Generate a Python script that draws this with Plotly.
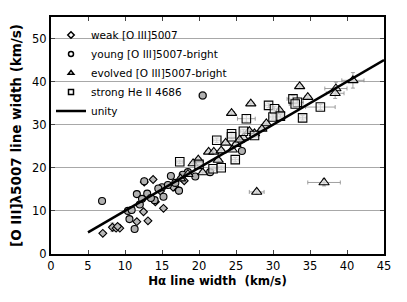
import plotly.graph_objects as go

# weak [O III]5007 (diamonds)
weak_x = [7.0, 8.3, 8.8, 9.3, 9.0, 11.6, 12.5, 13.1, 15.2, 12.6, 13.8, 14.1, 16.5, 18.0, 17.2, 14.8]
weak_y = [4.8, 6.2, 6.0, 6.0, 6.4, 7.5, 9.8, 7.7, 10.6, 16.7, 17.3, 12.1, 15.5, 17.0, 14.8, 14.6]
weak_ex = [0.3, 0.4, 0.3, 0.3, 0.3, 0.3, 0.3, 0.3, 0.3, 0.3, 0.3, 0.3, 0.3, 0.3, 0.3, 0.3]
weak_ey = [0.3, 1.0, 0.3, 0.3, 0.3, 0.3, 0.3, 0.3, 0.3, 0.3, 0.3, 0.3, 0.3, 0.3, 0.3, 0.3]

# young [O III]5007-bright (circles)
young_x = [6.9, 10.4, 10.6, 11.3, 11.6, 10.9, 12.6, 14.0, 15.2, 15.0, 16.2, 17.3, 13.0, 14.5, 12.0,
           16.8, 18.5, 20.5, 19.5, 13.5, 21.5, 25.8, 15.8, 12.3, 17.8]
young_y = [12.3, 10.0, 8.1, 5.8, 13.9, 10.2, 16.9, 12.5, 13.3, 15.5, 18.1, 14.7, 14.0, 15.2, 11.5,
           16.5, 19.0, 36.8, 18.0, 13.0, 19.0, 23.9, 16.0, 12.8, 18.4]
young_ex = [0.3] * 17 + [0.5] + [0.3] * 7
young_ey = [0.3] * 17 + [0.9] + [0.3] * 7

# evolved [O III]5007-bright (triangles)
evolved_x = [27.8, 36.9, 40.8, 38.5, 38.4, 33.6, 34.7, 30.9, 29.1, 27.0, 24.4, 19.9, 21.3, 22.0,
             23.0, 23.6, 25.0, 26.0, 27.5, 28.5, 18.5, 19.2, 20.5, 24.5, 25.5, 17.5, 26.8, 22.6]
evolved_y = [14.4, 16.6, 40.3, 38.4, 37.3, 38.9, 36.4, 33.3, 30.3, 34.9, 32.7, 21.9, 23.7, 23.7,
             24.0, 25.8, 25.5, 27.0, 28.0, 29.0, 18.5, 21.0, 18.9, 24.2, 26.5, 17.5, 28.5, 21.8]
evolved_ex = [1.0, 2.2, 1.5, 1.5, 1.2, 0.4, 0.4, 0.4, 0.4, 0.4, 0.4, 0.4, 0.4, 0.4,
              0.4, 0.4, 0.4, 0.4, 0.4, 0.4, 0.4, 0.4, 0.4, 0.4, 0.4, 0.4, 0.4, 0.4]
evolved_ey = [0.6, 0.8, 1.8, 1.5, 1.2, 0.4, 0.4, 0.4, 0.4, 0.4, 0.4, 0.4, 0.4, 0.4,
              0.4, 0.4, 0.4, 0.4, 0.4, 0.4, 0.4, 0.4, 0.4, 0.4, 0.4, 0.4, 0.4, 0.4]

# strong He II 4686 (squares)
strong_x = [36.4, 34.0, 32.7, 33.3, 29.4, 30.0, 30.2, 26.4, 22.4, 24.4, 24.4, 24.9, 17.4, 21.9,
            23.0, 27.5, 31.0, 20.0, 26.0, 33.0]
strong_y = [34.1, 31.6, 36.0, 35.2, 34.5, 31.8, 33.7, 31.4, 26.4, 27.9, 27.2, 21.9, 21.4, 19.8,
            20.0, 27.5, 32.0, 20.8, 28.5, 34.8]
strong_ex = [2.0, 0.5, 0.8, 0.8, 0.5, 0.5, 0.5, 1.2, 0.5, 0.5, 0.5, 0.5, 0.4, 0.4,
             0.4, 0.4, 0.4, 0.4, 0.4, 0.8]
strong_ey = [0.6, 0.5, 0.8, 0.8, 0.5, 0.5, 0.5, 0.8, 0.5, 0.5, 0.5, 0.5, 0.4, 0.4,
             0.4, 0.4, 0.4, 0.4, 0.4, 0.8]

unity_x = [5, 45]
unity_y = [5, 45]

font = "DejaVu Sans, Verdana, sans-serif"
err_style = dict(type="data", thickness=0.8, width=2, color="#888888")

fig = go.Figure()

def add(name, xs, ys, ex, ey, symbol, size, fill):
    fig.add_trace(go.Scatter(
        x=xs, y=ys, mode="markers", name=name, showlegend=False,
        marker=dict(symbol=symbol, size=size, color=fill,
                    line=dict(color="black", width=1.1)),
        error_x=dict(array=ex, **err_style),
        error_y=dict(array=ey, **err_style),
    ))
    # small legend-only marker (the reference legend uses small symbols)
    fig.add_trace(go.Scatter(
        x=[None], y=[None], mode="markers", name=name, showlegend=True,
        marker=dict(symbol=symbol, size=5, color="white",
                    line=dict(color="black", width=1.5)),
    ))

add("weak [O III]5007", weak_x, weak_y, weak_ex, weak_ey, "diamond", 6, "#b8b8b8")
add("young [O III]5007-bright", young_x, young_y, young_ex, young_ey, "circle", 7, "#b0b0b0")
add("evolved [O III]5007-bright", evolved_x, evolved_y, evolved_ex, evolved_ey, "triangle-up", 9, "rgba(225,225,225,0.7)")
add("strong He II 4686", strong_x, strong_y, strong_ex, strong_ey, "square", 8.5, "rgba(240,240,240,0.6)")

fig.add_trace(go.Scatter(x=unity_x, y=unity_y, mode="lines", name="unity",
                         line=dict(color="black", width=2.5)))

# the page body adds an 8px offset; margins compensate so the plot box sits at x 51-384, y 17-254
fig.update_layout(
    width=407, height=302,
    margin=dict(l=43, r=31, t=9, b=56),
    paper_bgcolor="white", plot_bgcolor="white",
    font=dict(family=font, color="black", size=11),
    legend=dict(x=0.0, y=0.985, xanchor="left", yanchor="top",
                bgcolor="rgba(0,0,0,0)", font=dict(size=10.5),
                itemsizing="trace", tracegroupgap=0, itemwidth=30),
    showlegend=True,
)
fig.update_xaxes(range=[0, 45], tickvals=[0, 5, 10, 15, 20, 25, 30, 35, 40, 45],
                 showgrid=False, zeroline=False, ticks="inside", ticklen=4,
                 showline=True, linecolor="black", linewidth=2, mirror="ticks",
                 automargin=False,
                 title=dict(text="<b>H\u03b1 line width  (km/s)</b>", font=dict(size=11.8), standoff=5),
                 tickfont=dict(size=11.5))
fig.update_yaxes(range=[0, 55], tickvals=[0, 10, 20, 30, 40, 50],
                 showgrid=True, gridcolor="#a8a8a8", gridwidth=1, zeroline=False,
                 ticks="inside", ticklen=4,
                 showline=True, linecolor="black", linewidth=2, mirror="ticks",
                 automargin=False,
                 title=dict(text="<b>[O III]\u03bb5007 line width (km/s)</b>", font=dict(size=13.5), standoff=10),
                 tickfont=dict(size=11.5))

fig.write_html("out.html")
